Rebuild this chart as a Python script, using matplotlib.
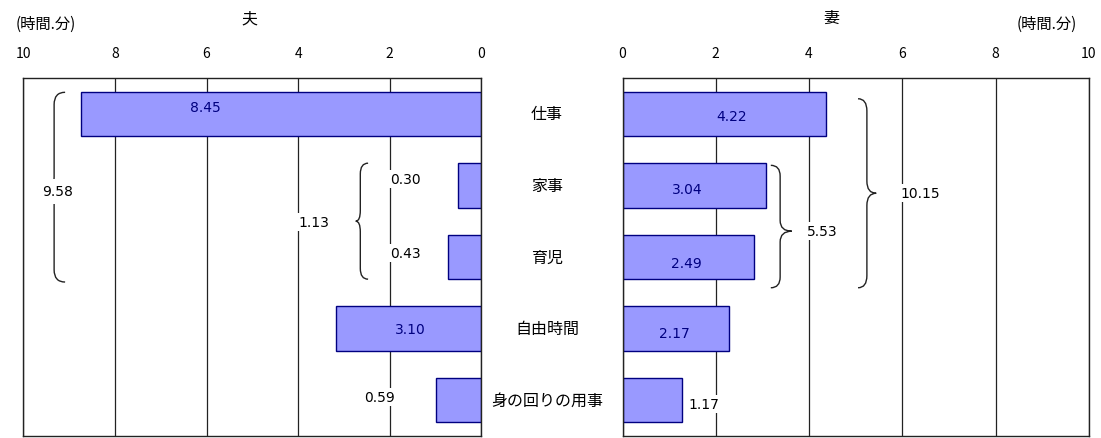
import matplotlib
matplotlib.use("Agg")
import matplotlib.pyplot as plt
from matplotlib.path import Path
from matplotlib.patches import PathPatch

plt.rcParams["font.family"] = ["Noto Sans CJK JP", "DejaVu Sans"]

# time use, written as hours.minutes
categories = ["仕事", "家事", "育児", "自由時間", "身の回りの用事"]
husband = ["8.45", "0.30", "0.43", "3.10", "0.59"]
wife = ["4.22", "3.04", "2.49", "2.17", "1.17"]

# subtotals shown next to the braces
husband_total = "9.58"     # 仕事+家事+育児
husband_house = "1.13"     # 家事+育児
wife_total = "10.15"       # 仕事+家事+育児
wife_house = "5.53"        # 家事+育児

ticks = [0, 2, 4, 6, 8, 10]


def to_hours(s):
    h, m = s.split(".")
    return int(h) + int(m) / 60


h_vals = [to_hours(v) for v in husband]
w_vals = [to_hours(v) for v in wife]
rows = list(range(len(categories)))

bar_col = "#9999ff"
edge_col = "#000080"

fig = plt.figure(figsize=(11.01, 4.39), dpi=100)
axL = fig.add_axes([0.0213, 0.0046, 0.4157, 0.8155])
axR = fig.add_axes([0.5654, 0.0046, 0.4236, 0.8155])

for ax in (axL, axR):
    ax.set_ylim(4.5, -0.5)
    ax.set_xticks(ticks)
    ax.xaxis.tick_top()
    ax.tick_params(axis="x", length=0, pad=13, labelsize=10)
    ax.set_yticks([])
    ax.set_axisbelow(True)
    ax.grid(axis="x", color="#222222", lw=0.9)
    for sp in ax.spines.values():
        sp.set_color("#222222")
        sp.set_linewidth(1.0)

axL.set_xlim(10, 0)
axR.set_xlim(0, 10)

axL.barh(rows, h_vals, height=0.62, color=bar_col, edgecolor=edge_col, lw=1.0)
axR.barh(rows, w_vals, height=0.62, color=bar_col, edgecolor=edge_col, lw=1.0)

# value labels: (x, y in data units, inside bar?)
h_pos = [(6.03, -0.10, True), (1.66, 0.91, False), (1.66, 1.94, False),
         (1.55, 3.0, True), (2.21, 3.96, False)]
w_pos = [(2.33, 0.03, True), (1.38, 1.05, True), (1.38, 2.08, True),
         (1.12, 3.06, True), (1.75, 4.05, False)]

wbox = dict(boxstyle="square,pad=0.15", fc="white", ec="none")
for txt, (x, y, inside) in zip(husband, h_pos):
    axL.text(x, y, txt, ha="center", va="center", fontsize=10,
             family="DejaVu Sans", color=edge_col if inside else "black",
             bbox=None if inside else wbox, zorder=5)
for txt, (x, y, inside) in zip(wife, w_pos):
    axR.text(x, y, txt, ha="center", va="center", fontsize=10,
             family="DejaVu Sans", color=edge_col if inside else "black",
             bbox=None if inside else wbox, zorder=5)


def brace(ax, x_line, x_tip, x_point, y0, y1, ym, r=0.17):
    verts = [(x_tip, y0), (x_line, y0), (x_line, y0 + r),
             (x_line, ym - r), (x_line, ym), (x_point, ym),
             (x_line, ym), (x_line, ym + r),
             (x_line, y1 - r), (x_line, y1), (x_tip, y1)]
    codes = [Path.MOVETO, Path.CURVE3, Path.CURVE3,
             Path.LINETO, Path.CURVE3, Path.CURVE3,
             Path.CURVE3, Path.CURVE3,
             Path.LINETO, Path.CURVE3, Path.CURVE3]
    ax.add_patch(PathPatch(Path(verts, codes), fc="none", ec="#222222",
                           lw=1.0, zorder=4))


# husband braces
brace(axL, 9.33, 9.09, 9.5, -0.30, 2.35, 1.05)
axL.text(9.25, 1.08, husband_total, ha="center", va="center", fontsize=10,
         family="DejaVu Sans", bbox=dict(boxstyle="square,pad=0.4", fc="white", ec="none"),
         zorder=6)
brace(axL, 2.64, 2.47, 2.74, 0.69, 2.31, 1.5, r=0.15)
axL.text(3.65, 1.51, husband_house, ha="center", va="center", fontsize=10,
         family="DejaVu Sans", bbox=wbox, zorder=6)

# wife braces
brace(axR, 3.38, 3.18, 3.63, 0.72, 2.43, 1.64, r=0.15)
axR.text(4.28, 1.64, wife_house, ha="center", va="center", fontsize=10,
         family="DejaVu Sans", bbox=wbox, zorder=6)
brace(axR, 5.24, 5.05, 5.44, -0.21, 2.43, 1.11)
axR.text(6.38, 1.11, wife_total, ha="center", va="center", fontsize=10,
         family="DejaVu Sans", bbox=wbox, zorder=6)

# category names between the two panels
for i, cat in enumerate(categories):
    axL.text(1.144, i, cat, transform=axL.get_yaxis_transform(),
             ha="center", va="center", fontsize=11.5)

fig.text(249 / 1101, 1 - 19 / 439, "夫", ha="center", va="center", fontsize=11.5)
fig.text(831 / 1101, 1 - 18 / 439, "妻", ha="center", va="center", fontsize=11.5)
fig.text(46 / 1101, 1 - 24 / 439, "(時間.分)", ha="center", va="center", fontsize=11)
fig.text(1047 / 1101, 1 - 24 / 439, "(時間.分)", ha="center", va="center", fontsize=11)

fig.savefig("out.png", dpi=100)
